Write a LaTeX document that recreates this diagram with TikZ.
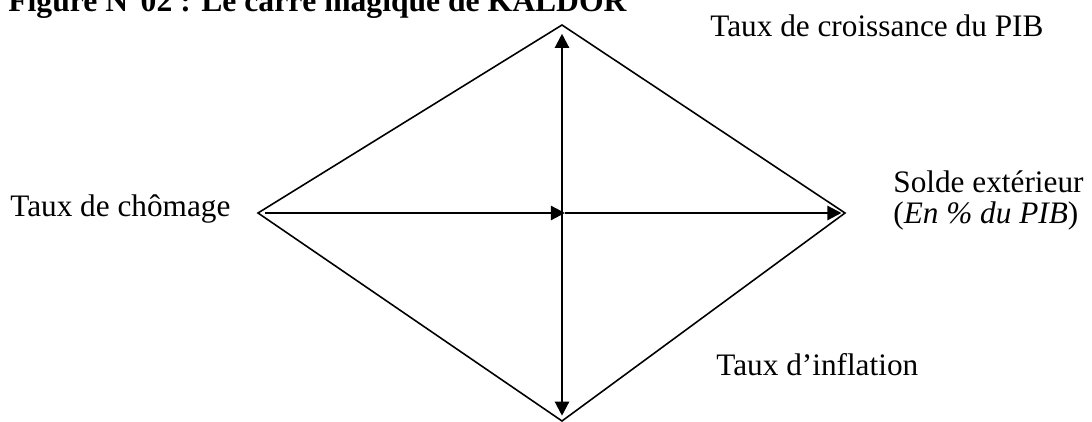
\documentclass[tikz,border=0pt]{standalone}
\usepackage{fontspec}
\setmainfont{Liberation Serif}
\usetikzlibrary{arrows.meta}
\begin{document}
\begin{tikzpicture}[
  x=0.02cm, y=-0.02cm,
  >={Triangle[length=8pt, width=8pt]},
  every node/.style={inner sep=0pt, anchor=base west, font=\fontsize{17.8}{21}\selectfont},
  axis/.style={line width=1.25pt},
  side/.style={line width=0.9pt, line join=miter}
]
  \useasboundingbox (0,0) rectangle (1092,422);

  \coordinate (t) at (562,25);
  \coordinate (r) at (845,213);
  \coordinate (b) at (562,421);
  \coordinate (l) at (258,213);
  \coordinate (c) at (565,213);

  \draw[side] (t) -- (r) -- (b) -- (l) -- cycle;

  \draw[axis, ->, shorten <=4] (l) -- (c);
  \draw[axis, ->, shorten >=2] (c) -- (r);
  \draw[axis, <->, shorten <=3, shorten >=5] (b) -- (t);

  \node[font=\fontsize{18}{21}\bfseries\selectfont] (title) at (8,12) {Figure N°02 : Le carré magique de KALDOR};
  \node (pib)  at (710,37)  {Taux de croissance du PIB};
  \node (sol)  at (893,193) {Solde extérieur};
  \node (sol2) at (893,224) {(\textit{En \% du PIB})};
  \node (cho)  at (10,217)  {Taux de chômage};
  \node (inf)  at (716,375) {Taux d’inflation};
\end{tikzpicture}
\end{document}
